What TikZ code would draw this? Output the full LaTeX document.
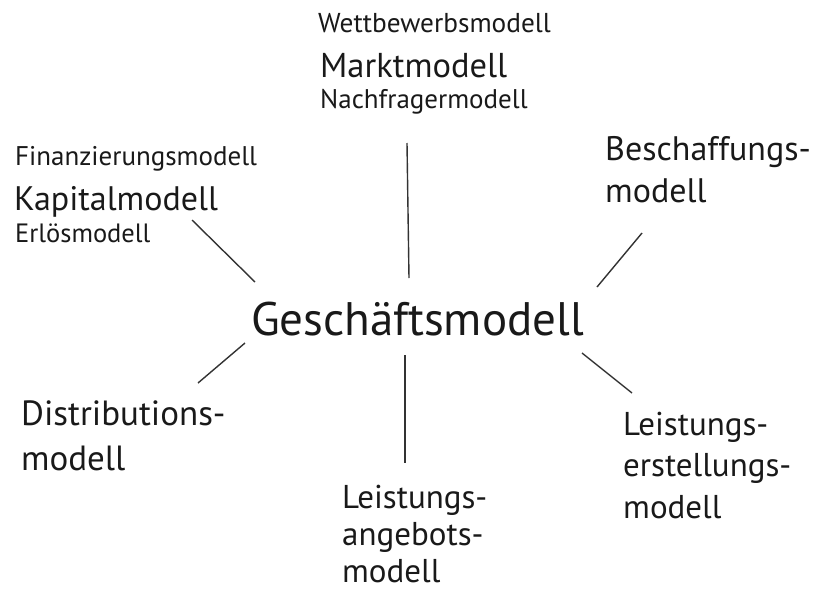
\documentclass[tikz,border=0pt]{standalone}
\usepackage{fontspec}
\setmainfont{PT Sans}
\begin{document}
\begin{tikzpicture}[x=1pt,y=-1pt,
  lbl/.style={inner sep=0pt, anchor=base west, align=left, text=black!90},
  conn/.style={draw=black!80, line width=1.4pt}]
\useasboundingbox (0,0) rectangle (820,592);
\node[lbl, font={\fontsize{47}{50}\selectfont}] (gm) at (251,335) {Geschäftsmodell};
\node[lbl, font={\fontsize{27.3}{30}\selectfont}] (wm) at (318,32) {Wettbewerbsmodell};
\node[lbl, font={\fontsize{34.5}{36}\selectfont}] (mm) at (320,77) {Marktmodell};
\node[lbl, font={\fontsize{27}{30}\selectfont}] (nm) at (320,108) {Nachfragermodell};
\node[lbl, font={\fontsize{27}{30}\selectfont}] (fm) at (15,165) {Finanzierungsmodell};
\node[lbl, font={\fontsize{34}{36}\selectfont}] (km) at (14,210) {Kapitalmodell};
\node[lbl, font={\fontsize{26.5}{30}\selectfont}] (em) at (15,242) {Erlösmodell};
\node[lbl, font={\fontsize{34}{42}\selectfont}] (bm) at (605,202) {Beschaffungs-\\modell};
\node[lbl, font={\fontsize{35}{45}\selectfont}] (dm) at (21,470) {Distributions-\\modell};
\node[lbl, text depth=0pt, font={\fontsize{33}{37}\selectfont}] (lam) at (342,582) {Leistungs-\\angebots-\\modell};
\node[lbl, font={\fontsize{33}{41.5}\selectfont}] (lem) at (623,518) {Leistungs-\\erstellungs-\\modell};
\coordinate (t1) at (407,143); \coordinate (t2) at (409,278);
\coordinate (k1) at (192,220); \coordinate (k2) at (255,282);
\coordinate (b1) at (642,233); \coordinate (b2) at (597,287);
\coordinate (d1) at (245,343); \coordinate (d2) at (198,383);
\coordinate (a1) at (405,355); \coordinate (a2) at (405,463);
\coordinate (e1) at (582,353); \coordinate (e2) at (632,393);
\draw[conn] (t1) -- (t2);
\draw[conn] (k1) -- (k2);
\draw[conn] (b1) -- (b2);
\draw[conn] (d1) -- (d2);
\draw[conn] (a1) -- (a2);
\draw[conn] (e1) -- (e2);
\end{tikzpicture}
\end{document}
